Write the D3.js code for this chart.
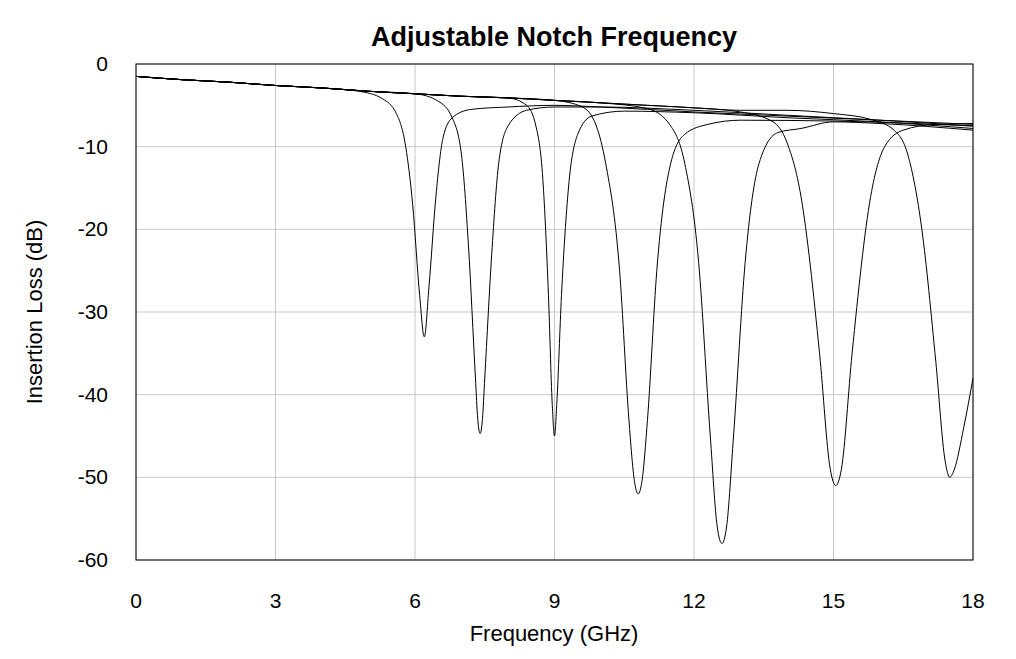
<!DOCTYPE html><html><head><meta charset="utf-8">
<script src="https://d3js.org/d3.v7.min.js"></script>
<style>body{margin:0;background:#fff}text{font-family:"Liberation Sans",Arial,sans-serif}</style></head><body>
<svg id="c" width="1016" height="659"></svg>
<script>
const xTicks=[0,3,6,9,12,15,18];
const yTicks=[0,-10,-20,-30,-40,-50,-60];
const baseline=[[0,-1.5],[1,-1.9],[2,-2.2],[3,-2.6],[4,-2.9],[5,-3.3],[6,-3.6],[7,-3.9],[8,-4.1],[9,-4.4],[10,-4.7],[11,-5.0],[12,-5.3],[13,-5.6],[14,-5.8],[15,-6.0],[16,-6.2],[18,-6.5]];
const notch1=[[4.8,-3.3],[5.3,-4.2],[5.6,-6],[5.8,-10],[5.95,-17],[6.1,-28],[6.2,-33],[6.3,-27],[6.45,-16],[6.6,-9],[6.8,-6.5],[7.2,-5.5],[8,-5.2],[9,-5.0],[10,-5.2],[12,-5.8],[14,-6.3],[16,-6.8],[18,-7.3]];
const notch2=[[6.0,-3.6],[6.5,-4.5],[6.8,-6.5],[7.0,-11],[7.15,-22],[7.3,-38],[7.35,-43],[7.4,-44.7],[7.45,-43],[7.5,-38],[7.65,-23],[7.8,-12],[8.0,-7.5],[8.4,-5.6],[9,-5.2],[10,-5.2],[12,-5.6],[14,-6.2],[16,-6.8],[18,-7.5]];
const notch3=[[8.0,-4.1],[8.4,-5],[8.6,-7.5],[8.75,-14],[8.87,-28],[8.95,-41],[9.0,-45],[9.05,-41],[9.15,-28],[9.3,-15],[9.5,-8.5],[9.8,-6.3],[10.5,-5.7],[12,-5.9],[14,-6.5],[16,-7],[18,-7.8]];
const notch4=[[9.0,-4.4],[9.6,-5.2],[9.9,-7.5],[10.1,-12],[10.4,-25],[10.6,-43],[10.72,-50.5],[10.8,-52],[10.88,-50.5],[11.0,-43],[11.2,-25],[11.5,-12],[11.8,-8.5],[12.3,-7.3],[13,-6.8],[15,-6.9],[18,-7.5]];
const notch5=[[10,-4.7],[11,-5.4],[11.5,-7.5],[11.8,-12],[12.1,-24],[12.35,-45],[12.5,-56],[12.6,-58],[12.7,-56],[12.85,-45],[13.1,-24],[13.4,-12],[13.8,-8.3],[14.3,-7.8],[15,-7.0],[16,-7.2],[18,-8.0]];
const notch6=[[12,-5.3],[13,-5.8],[13.7,-7],[14.0,-9.5],[14.3,-16],[14.7,-35],[14.93,-49],[15.05,-51],[15.17,-49],[15.4,-35],[15.8,-16],[16.1,-10],[16.5,-8],[17.2,-7.3],[18,-7.2]];
const notch7=[[14,-5.6],[15,-6],[15.8,-6.7],[16.3,-8],[16.6,-11],[16.9,-20],[17.2,-36],[17.4,-48],[17.5,-50],[17.6,-49],[17.8,-44],[18,-38]];
const notches=[notch1,notch2,notch3,notch4,notch5,notch6,notch7];

const svg=d3.select("#c");
const x=d3.scaleLinear().domain([0,18]).range([136,973]);
const y=d3.scaleLinear().domain([0,-60]).range([64,560]);
const g=svg.append("g");
xTicks.forEach(t=>g.append("line").attr("x1",x(t)).attr("x2",x(t)).attr("y1",64).attr("y2",560).attr("stroke","#c8c8c8"));
yTicks.forEach(t=>g.append("line").attr("x1",136).attr("x2",973).attr("y1",y(t)).attr("y2",y(t)).attr("stroke","#c8c8c8"));
g.append("rect").attr("x",136).attr("y",64).attr("width",837).attr("height",496).attr("fill","none").attr("stroke","#000");
const line=d3.line().x(d=>x(d[0])).y(d=>y(d[1])).curve(d3.curveMonotoneX);
svg.append("clipPath").attr("id","cp").append("rect").attr("x",136).attr("y",64).attr("width",837).attr("height",496);
notches.forEach(n=>{
  const pts=baseline.filter(p=>p[0]<n[0][0]).concat(n);
  svg.append("path").attr("d",line(pts)).attr("fill","none").attr("stroke","#000").attr("stroke-width",1).attr("clip-path","url(#cp)");
});
xTicks.forEach(t=>svg.append("text").attr("x",x(t)).attr("y",608).attr("text-anchor","middle").attr("font-size",21).text(t));
yTicks.forEach(t=>svg.append("text").attr("x",108).attr("y",y(t)+7).attr("text-anchor","end").attr("font-size",21).text(t));
svg.append("text").attr("x",554).attr("y",641).attr("text-anchor","middle").attr("font-size",22).text("Frequency (GHz)");
svg.append("text").attr("transform","translate(42,312) rotate(-90)").attr("text-anchor","middle").attr("font-size",22).text("Insertion Loss (dB)");
svg.append("text").attr("x",554).attr("y",46).attr("text-anchor","middle").attr("font-size",27).attr("font-weight","bold").text("Adjustable Notch Frequency");
</script></body></html>
